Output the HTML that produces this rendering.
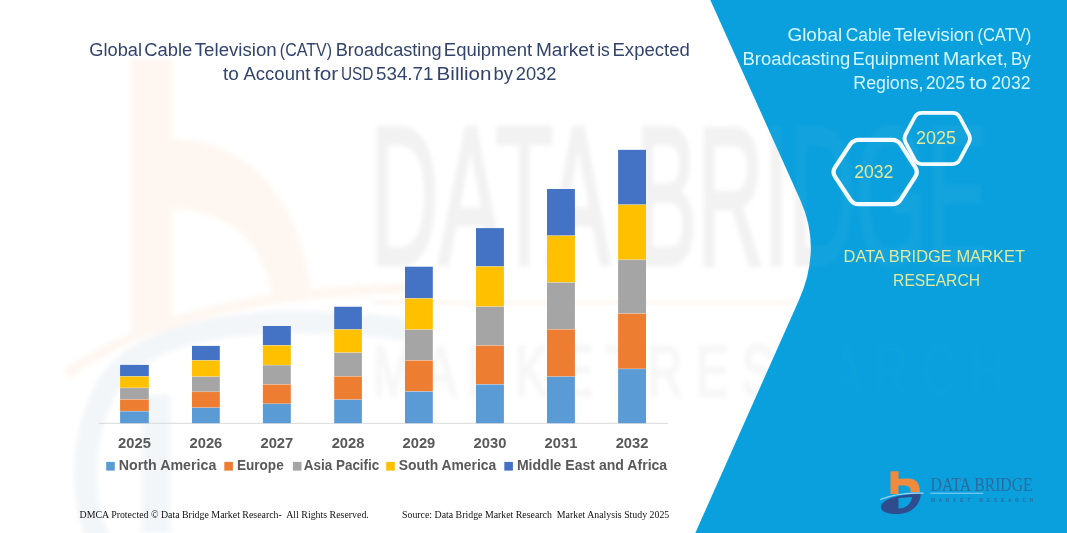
<!DOCTYPE html>
<html><head><meta charset="utf-8">
<style>
html,body{margin:0;padding:0;background:#fff;}
body{width:1067px;height:533px;overflow:hidden;position:relative;font-family:"Liberation Sans",sans-serif;}
svg{position:absolute;left:0;top:0;display:block;}
</style></head>
<body>
<svg width="1067" height="533" viewBox="0 0 1067 533">
<rect x="0" y="0" width="1067" height="533" fill="#ffffff"/>

<!-- watermark -->
<defs><filter id="bl" x="-10%" y="-10%" width="120%" height="120%"><feGaussianBlur stdDeviation="2.2"/></filter></defs>
<g id="wm" filter="url(#bl)">
<g opacity="0.075">
<path d="M131 59.5 L172 59.5 L172 139 C 245 139 300 195 312 298 L273 301 C 266 243 228 209 172 209 L172 330 L131 330 Z" fill="#F08A3C"/>
<path d="M67 374 C 140 320 260 290 420 288" stroke="#F08A3C" stroke-width="10" fill="none"/>
</g>
<g opacity="0.05">
<path d="M102 545 C 80 505 78 440 108 385 C 140 335 220 322 300 322 C 360 323 400 328 430 334" stroke="#2E4C8E" stroke-width="22" fill="none"/>
<rect x="142" y="395" width="28" height="138" fill="#2E4C8E"/>
</g>
<g opacity="0.05" fill="#000" stroke="#000" stroke-width="5" font-family="Liberation Sans" font-size="197">
<text x="370" y="263.5" textLength="240" lengthAdjust="spacingAndGlyphs">DATA</text>
<text x="636" y="263.5" textLength="352" lengthAdjust="spacingAndGlyphs">BRIDGE</text>
</g>
<rect x="373" y="301.5" width="420" height="2" fill="#F5C8A0" opacity="0.35"/>
<text x="373" y="396" font-family="Liberation Sans" font-size="72" fill="#000" stroke="#000" stroke-width="3" opacity="0.03" textLength="632" lengthAdjust="spacingAndGlyphs">M A R K E T  R E S E A R C H</text>
</g>

<!-- title -->
<g font-family="Liberation Sans" fill="#33446C" font-size="18">
<text x="89.30" y="55.9" textLength="52.70" lengthAdjust="spacingAndGlyphs">Global</text>
<text x="144.20" y="55.9" textLength="48.00" lengthAdjust="spacingAndGlyphs">Cable</text>
<text x="194.80" y="55.9" textLength="81.90" lengthAdjust="spacingAndGlyphs">Television</text>
<text x="279.80" y="55.9" textLength="52.20" lengthAdjust="spacingAndGlyphs">(CATV)</text>
<text x="335.70" y="55.9" textLength="105.90" lengthAdjust="spacingAndGlyphs">Broadcasting</text>
<text x="443.80" y="55.9" textLength="88.40" lengthAdjust="spacingAndGlyphs">Equipment</text>
<text x="535.90" y="55.9" textLength="58.40" lengthAdjust="spacingAndGlyphs">Market</text>
<text x="597.20" y="55.9" textLength="12.60" lengthAdjust="spacingAndGlyphs">is</text>
<text x="612.50" y="55.9" textLength="77.30" lengthAdjust="spacingAndGlyphs">Expected</text>
<text x="223.10" y="80.2" textLength="15.80" lengthAdjust="spacingAndGlyphs">to</text>
<text x="243.50" y="80.2" textLength="66.90" lengthAdjust="spacingAndGlyphs">Account</text>
<text x="313.90" y="80.2" textLength="24.30" lengthAdjust="spacingAndGlyphs">for</text>
<text x="340.90" y="80.2" textLength="32.50" lengthAdjust="spacingAndGlyphs">USD</text>
<text x="376.00" y="80.2" textLength="57.50" lengthAdjust="spacingAndGlyphs">534.71</text>
<text x="436.60" y="80.2" textLength="54.90" lengthAdjust="spacingAndGlyphs">Billion</text>
<text x="493.60" y="80.2" textLength="19.50" lengthAdjust="spacingAndGlyphs">by</text>
<text x="515.70" y="80.2" textLength="40.80" lengthAdjust="spacingAndGlyphs">2032</text>
</g>

<!-- axis -->
<rect x="98.8" y="422.8" width="569" height="1" fill="#D9D9D9"/>

<!-- bars -->
<g>
<rect x="120.10" y="364.90" width="28.70" height="11.50" fill="#4472C4"/>
<rect x="120.10" y="376.40" width="28.70" height="11.50" fill="#FFC000"/>
<rect x="120.10" y="387.90" width="28.70" height="11.50" fill="#A5A5A5"/>
<rect x="120.10" y="399.40" width="28.70" height="11.80" fill="#ED7D31"/>
<rect x="120.10" y="411.20" width="28.70" height="12.00" fill="#5B9BD5"/>
<rect x="120.10" y="376.10" width="28.70" height="0.6" fill="#fff" opacity="0.4"/>
<rect x="120.10" y="387.60" width="28.70" height="0.6" fill="#fff" opacity="0.4"/>
<rect x="120.10" y="399.10" width="28.70" height="0.6" fill="#fff" opacity="0.4"/>
<rect x="120.10" y="410.90" width="28.70" height="0.6" fill="#fff" opacity="0.4"/>
<rect x="192.00" y="345.90" width="27.80" height="14.50" fill="#4472C4"/>
<rect x="192.00" y="360.40" width="27.80" height="16.30" fill="#FFC000"/>
<rect x="192.00" y="376.70" width="27.80" height="15.10" fill="#A5A5A5"/>
<rect x="192.00" y="391.80" width="27.80" height="15.90" fill="#ED7D31"/>
<rect x="192.00" y="407.70" width="27.80" height="15.50" fill="#5B9BD5"/>
<rect x="192.00" y="360.10" width="27.80" height="0.6" fill="#fff" opacity="0.4"/>
<rect x="192.00" y="376.40" width="27.80" height="0.6" fill="#fff" opacity="0.4"/>
<rect x="192.00" y="391.50" width="27.80" height="0.6" fill="#fff" opacity="0.4"/>
<rect x="192.00" y="407.40" width="27.80" height="0.6" fill="#fff" opacity="0.4"/>
<rect x="262.90" y="326.00" width="27.90" height="19.30" fill="#4472C4"/>
<rect x="262.90" y="345.30" width="27.90" height="19.80" fill="#FFC000"/>
<rect x="262.90" y="365.10" width="27.90" height="19.30" fill="#A5A5A5"/>
<rect x="262.90" y="384.40" width="27.90" height="19.40" fill="#ED7D31"/>
<rect x="262.90" y="403.80" width="27.90" height="19.40" fill="#5B9BD5"/>
<rect x="262.90" y="345.00" width="27.90" height="0.6" fill="#fff" opacity="0.4"/>
<rect x="262.90" y="364.80" width="27.90" height="0.6" fill="#fff" opacity="0.4"/>
<rect x="262.90" y="384.10" width="27.90" height="0.6" fill="#fff" opacity="0.4"/>
<rect x="262.90" y="403.50" width="27.90" height="0.6" fill="#fff" opacity="0.4"/>
<rect x="334.20" y="306.75" width="27.70" height="22.75" fill="#4472C4"/>
<rect x="334.20" y="329.50" width="27.70" height="23.20" fill="#FFC000"/>
<rect x="334.20" y="352.70" width="27.70" height="23.60" fill="#A5A5A5"/>
<rect x="334.20" y="376.30" width="27.70" height="23.40" fill="#ED7D31"/>
<rect x="334.20" y="399.70" width="27.70" height="23.50" fill="#5B9BD5"/>
<rect x="334.20" y="329.20" width="27.70" height="0.6" fill="#fff" opacity="0.4"/>
<rect x="334.20" y="352.40" width="27.70" height="0.6" fill="#fff" opacity="0.4"/>
<rect x="334.20" y="376.00" width="27.70" height="0.6" fill="#fff" opacity="0.4"/>
<rect x="334.20" y="399.40" width="27.70" height="0.6" fill="#fff" opacity="0.4"/>
<rect x="405.00" y="266.70" width="27.80" height="31.70" fill="#4472C4"/>
<rect x="405.00" y="298.40" width="27.80" height="31.30" fill="#FFC000"/>
<rect x="405.00" y="329.70" width="27.80" height="30.70" fill="#A5A5A5"/>
<rect x="405.00" y="360.40" width="27.80" height="31.10" fill="#ED7D31"/>
<rect x="405.00" y="391.50" width="27.80" height="31.70" fill="#5B9BD5"/>
<rect x="405.00" y="298.10" width="27.80" height="0.6" fill="#fff" opacity="0.4"/>
<rect x="405.00" y="329.40" width="27.80" height="0.6" fill="#fff" opacity="0.4"/>
<rect x="405.00" y="360.10" width="27.80" height="0.6" fill="#fff" opacity="0.4"/>
<rect x="405.00" y="391.20" width="27.80" height="0.6" fill="#fff" opacity="0.4"/>
<rect x="476.00" y="228.10" width="27.90" height="38.40" fill="#4472C4"/>
<rect x="476.00" y="266.50" width="27.90" height="40.20" fill="#FFC000"/>
<rect x="476.00" y="306.70" width="27.90" height="38.80" fill="#A5A5A5"/>
<rect x="476.00" y="345.50" width="27.90" height="38.90" fill="#ED7D31"/>
<rect x="476.00" y="384.40" width="27.90" height="38.80" fill="#5B9BD5"/>
<rect x="476.00" y="266.20" width="27.90" height="0.6" fill="#fff" opacity="0.4"/>
<rect x="476.00" y="306.40" width="27.90" height="0.6" fill="#fff" opacity="0.4"/>
<rect x="476.00" y="345.20" width="27.90" height="0.6" fill="#fff" opacity="0.4"/>
<rect x="476.00" y="384.10" width="27.90" height="0.6" fill="#fff" opacity="0.4"/>
<rect x="547.00" y="189.00" width="27.90" height="46.70" fill="#4472C4"/>
<rect x="547.00" y="235.70" width="27.90" height="46.80" fill="#FFC000"/>
<rect x="547.00" y="282.50" width="27.90" height="46.80" fill="#A5A5A5"/>
<rect x="547.00" y="329.30" width="27.90" height="47.40" fill="#ED7D31"/>
<rect x="547.00" y="376.70" width="27.90" height="46.50" fill="#5B9BD5"/>
<rect x="547.00" y="235.40" width="27.90" height="0.6" fill="#fff" opacity="0.4"/>
<rect x="547.00" y="282.20" width="27.90" height="0.6" fill="#fff" opacity="0.4"/>
<rect x="547.00" y="329.00" width="27.90" height="0.6" fill="#fff" opacity="0.4"/>
<rect x="547.00" y="376.40" width="27.90" height="0.6" fill="#fff" opacity="0.4"/>
<rect x="618.10" y="149.85" width="27.90" height="54.85" fill="#4472C4"/>
<rect x="618.10" y="204.70" width="27.90" height="55.10" fill="#FFC000"/>
<rect x="618.10" y="259.80" width="27.90" height="53.80" fill="#A5A5A5"/>
<rect x="618.10" y="313.60" width="27.90" height="55.30" fill="#ED7D31"/>
<rect x="618.10" y="368.90" width="27.90" height="54.30" fill="#5B9BD5"/>
<rect x="618.10" y="204.40" width="27.90" height="0.6" fill="#fff" opacity="0.4"/>
<rect x="618.10" y="259.50" width="27.90" height="0.6" fill="#fff" opacity="0.4"/>
<rect x="618.10" y="313.30" width="27.90" height="0.6" fill="#fff" opacity="0.4"/>
<rect x="618.10" y="368.60" width="27.90" height="0.6" fill="#fff" opacity="0.4"/>
</g>

<g font-family="Liberation Sans" font-weight="bold" fill="#595959" font-size="13.9">
<text x="118.05" y="447.7" textLength="32.8" lengthAdjust="spacingAndGlyphs">2025</text>
<text x="189.50" y="447.7" textLength="32.8" lengthAdjust="spacingAndGlyphs">2026</text>
<text x="260.45" y="447.7" textLength="32.8" lengthAdjust="spacingAndGlyphs">2027</text>
<text x="331.65" y="447.7" textLength="32.8" lengthAdjust="spacingAndGlyphs">2028</text>
<text x="402.50" y="447.7" textLength="32.8" lengthAdjust="spacingAndGlyphs">2029</text>
<text x="473.55" y="447.7" textLength="32.8" lengthAdjust="spacingAndGlyphs">2030</text>
<text x="544.55" y="447.7" textLength="32.8" lengthAdjust="spacingAndGlyphs">2031</text>
<text x="615.65" y="447.7" textLength="32.8" lengthAdjust="spacingAndGlyphs">2032</text>
</g>
<g font-family="Liberation Sans" font-weight="bold" fill="#595959" font-size="14.1">
<rect x="106.2" y="461.9" width="8.6" height="8.7" fill="#5B9BD5"/>
<text x="118.8" y="470.1" textLength="97.5" lengthAdjust="spacingAndGlyphs">North America</text>
<rect x="224.3" y="461.9" width="8.6" height="8.7" fill="#ED7D31"/>
<text x="236.9" y="470.1" textLength="46.8" lengthAdjust="spacingAndGlyphs">Europe</text>
<rect x="292.9" y="461.9" width="8.6" height="8.7" fill="#A5A5A5"/>
<text x="303.8" y="470.1" textLength="75.5" lengthAdjust="spacingAndGlyphs">Asia Pacific</text>
<rect x="386.2" y="461.9" width="8.6" height="8.7" fill="#FFC000"/>
<text x="398.8" y="470.1" textLength="97.5" lengthAdjust="spacingAndGlyphs">South America</text>
<rect x="504.3" y="461.9" width="8.6" height="8.7" fill="#4472C4"/>
<text x="516.9" y="470.1" textLength="150.3" lengthAdjust="spacingAndGlyphs">Middle East and Africa</text>
</g>

<!-- footer -->
<g font-family="Liberation Serif" fill="#111" font-size="10.3" style="white-space:pre">
<text x="79.6" y="518.2" textLength="289.2" lengthAdjust="spacingAndGlyphs">DMCA Protected &#169; Data Bridge Market Research-&#160; All Rights Reserved.</text>
<text x="402" y="518.2" textLength="267.3" lengthAdjust="spacingAndGlyphs">Source: Data Bridge Market Research&#160; Market Analysis Study 2025</text>
</g>

<!-- blue panel -->
<path d="M710.3 0 L1067 0 L1067 533 L695.3 533 L799 300 Q822 248.3 800.3 200 Z" fill="#09A0DD"/>

<clipPath id="pc"><path d="M710.3 0 L1067 0 L1067 533 L695.3 533 L799 300 Q822 248.3 800.3 200 Z"/></clipPath>
<g fill="#fff" opacity="0.04" clip-path="url(#pc)" filter="url(#bl)">
<text x="636" y="263.5" font-family="Liberation Sans" font-size="197" textLength="352" lengthAdjust="spacingAndGlyphs" stroke="#fff" stroke-width="5">BRIDGE</text>
<text x="373" y="396" font-family="Liberation Sans" font-size="72" stroke="#fff" stroke-width="3" opacity="0.25" textLength="632" lengthAdjust="spacingAndGlyphs">M A R K E T  R E S E A R C H</text>
</g>
<!-- right title -->
<g font-family="Liberation Sans" fill="#D4F7FF" font-size="17.6">
<text x="787.40" y="40.6" textLength="54.80" lengthAdjust="spacingAndGlyphs">Global</text>
<text x="845.80" y="40.6" textLength="45.50" lengthAdjust="spacingAndGlyphs">Cable</text>
<text x="893.70" y="40.6" textLength="80.50" lengthAdjust="spacingAndGlyphs">Television</text>
<text x="977.40" y="40.6" textLength="54.00" lengthAdjust="spacingAndGlyphs">(CATV)</text>
<text x="742.50" y="64.9" textLength="107.70" lengthAdjust="spacingAndGlyphs">Broadcasting</text>
<text x="852.70" y="64.9" textLength="86.40" lengthAdjust="spacingAndGlyphs">Equipment</text>
<text x="943.00" y="64.9" textLength="65.00" lengthAdjust="spacingAndGlyphs">Market,</text>
<text x="1011.00" y="64.9" textLength="19.80" lengthAdjust="spacingAndGlyphs">By</text>
<text x="853.30" y="88.5" textLength="70.20" lengthAdjust="spacingAndGlyphs">Regions,</text>
<text x="925.70" y="88.5" textLength="39.40" lengthAdjust="spacingAndGlyphs">2025</text>
<text x="969.30" y="88.5" textLength="18.00" lengthAdjust="spacingAndGlyphs">to</text>
<text x="991.30" y="88.5" textLength="39.20" lengthAdjust="spacingAndGlyphs">2032</text>
</g>

<!-- hexagons -->
<g fill="none" stroke="#F4FBFF" stroke-linejoin="round">
<path d="M905.75 134.08 L914.65 117.32 Q917.00 112.90 922.00 112.90 L952.50 112.90 Q957.50 112.90 959.85 117.32 L968.75 134.08 Q971.10 138.50 968.75 142.92 L959.85 159.68 Q957.50 164.10 952.50 164.10 L922.00 164.10 Q917.00 164.10 914.65 159.68 L905.75 142.92 Q903.40 138.50 905.75 134.08 Z" stroke-width="3.8"/>
<path d="M835.03 167.41 L850.27 144.39 Q853.30 139.80 858.80 139.80 L892.20 139.80 Q897.70 139.80 900.66 144.43 L915.34 167.37 Q918.30 172.00 915.34 176.63 L900.66 199.57 Q897.70 204.20 892.20 204.20 L858.80 204.20 Q853.30 204.20 850.27 199.61 L835.03 176.59 Q832.00 172.00 835.03 167.41 Z" stroke-width="4.3"/>
</g>
<g font-family="Liberation Sans" fill="#E2E89C" font-size="18">
<text x="916.1" y="143.8" textLength="40" lengthAdjust="spacingAndGlyphs">2025</text>
<text x="854.2" y="178.2" textLength="39.2" lengthAdjust="spacingAndGlyphs">2032</text>
</g>

<!-- DBMR text -->
<g font-family="Liberation Sans" fill="#E2E89C" font-size="17">
<text x="843.6" y="262" textLength="181.4" lengthAdjust="spacingAndGlyphs">DATA BRIDGE MARKET</text>
<text x="893.1" y="286.2" textLength="86.9" lengthAdjust="spacingAndGlyphs">RESEARCH</text>
</g>

<!-- logo -->
<g>
<path d="M890.5 471.2 L898.5 471.2 L898.5 478.8 Q904 478.2 910 478.6 Q919.5 480 919.9 490 L919.9 492.3 L910.6 492.3 L910.6 490.5 Q910.5 485.6 904 485.6 L898.5 485.6 L898.5 494 L890.5 494 Z" fill="#F08A3C"/>
<path d="M881 506 C884 498 900 494.5 921 493.5 C920 505 912 514 897 514 C888 514 880 512 881 506 Z M898.5 498 L898.5 508.5 C906 508.5 911 504 912 497 Z" fill="#2E4C8E" fill-rule="evenodd"/>
<path d="M880.2 499.5 Q898 492 923.5 493.2" stroke="#9BD6F2" stroke-width="1.3" fill="none"/>
<text x="930.6" y="490.6" font-family="Liberation Serif" font-size="19.6" fill="#3B5886" fill-opacity="0.75" textLength="102" lengthAdjust="spacingAndGlyphs">DATA BRIDGE</text>
<rect x="930.4" y="492.7" width="52.8" height="1" fill="#8FD3F5"/>
<text x="930.9" y="502" font-family="Liberation Sans" font-size="4.6" fill="#3B5886" textLength="102.4" lengthAdjust="spacing">MARKET  RESEARCH</text>
</g>

</svg>
</body></html>
